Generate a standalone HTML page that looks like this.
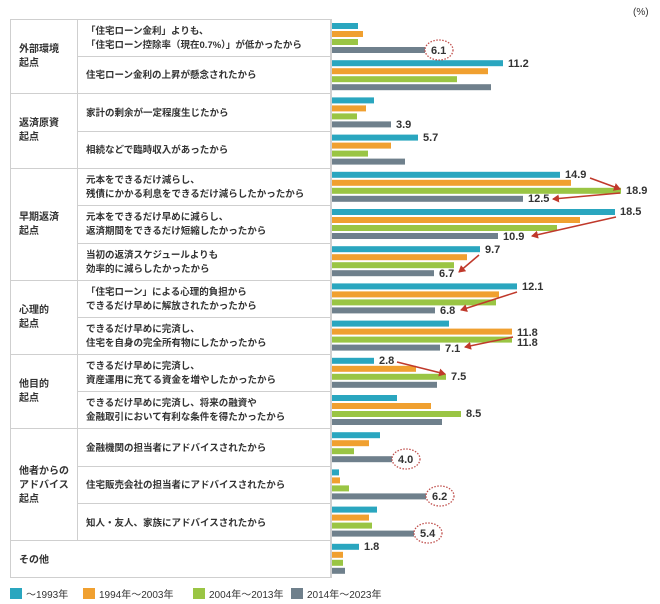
<!DOCTYPE html>
<html><head><meta charset="utf-8"><style>
html,body{margin:0;padding:0;background:#fff}
svg{display:block}
text{font-family:"Liberation Sans","Noto Sans CJK JP",sans-serif;fill:#333}
.l{font-size:9.5px;font-weight:bold}
.c{font-size:10px;font-weight:bold}
.v{font-size:11px;font-weight:bold}
.g{font-size:10px}
</style></head><body>
<svg width="660" height="604" viewBox="0 0 660 604">
<defs><marker id="ah" markerWidth="8" markerHeight="8" refX="6" refY="4" orient="auto" markerUnits="userSpaceOnUse"><path d="M0,0 L7,4 L0,8 z" fill="#c0392b"/></marker></defs>
<text x="633" y="15" class="g">(%)</text>
<g stroke="#cfcfcf" stroke-width="1" fill="none">
<rect x="10.5" y="19.5" width="320" height="558"/>
<line x1="77.5" y1="19.5" x2="77.5" y2="540.5"/>
<line x1="10" y1="93.5" x2="331" y2="93.5"/>
<line x1="10" y1="168.5" x2="331" y2="168.5"/>
<line x1="10" y1="280.5" x2="331" y2="280.5"/>
<line x1="10" y1="354.5" x2="331" y2="354.5"/>
<line x1="10" y1="428.5" x2="331" y2="428.5"/>
<line x1="10" y1="540.5" x2="331" y2="540.5"/>
<line x1="77" y1="56.5" x2="331" y2="56.5"/>
<line x1="77" y1="131.5" x2="331" y2="131.5"/>
<line x1="77" y1="205.5" x2="331" y2="205.5"/>
<line x1="77" y1="243.5" x2="331" y2="243.5"/>
<line x1="77" y1="317.5" x2="331" y2="317.5"/>
<line x1="77" y1="391.5" x2="331" y2="391.5"/>
<line x1="77" y1="466.5" x2="331" y2="466.5"/>
<line x1="77" y1="503.5" x2="331" y2="503.5"/>
</g>
<g class="c">
<text x="19" y="52">外部環境</text><text x="19" y="66">起点</text>
<text x="19" y="126">返済原資</text><text x="19" y="140">起点</text>
<text x="19" y="220">早期返済</text><text x="19" y="234">起点</text>
<text x="19" y="313">心理的</text><text x="19" y="327">起点</text>
<text x="19" y="387">他目的</text><text x="19" y="401">起点</text>
<text x="19" y="474">他者からの</text><text x="19" y="488">アドバイス</text><text x="19" y="502">起点</text>
<text x="19" y="563">その他</text>
</g>
<g class="l">
<text x="86" y="34">「住宅ローン金利」よりも、</text><text x="86" y="48">「住宅ローン控除率（現在0.7%）」が低かったから</text>
<text x="86" y="78">住宅ローン金利の上昇が懸念されたから</text>
<text x="86" y="116">家計の剰余が一定程度生じたから</text>
<text x="86" y="153">相続などで臨時収入があったから</text>
<text x="86" y="183">元本をできるだけ減らし、</text><text x="86" y="197">残債にかかる利息をできるだけ減らしたかったから</text>
<text x="86" y="220">元本をできるだけ早めに減らし、</text><text x="86" y="234">返済期間をできるだけ短縮したかったから</text>
<text x="86" y="258">当初の返済スケジュールよりも</text><text x="86" y="272">効率的に減らしたかったから</text>
<text x="86" y="295">「住宅ローン」による心理的負担から</text><text x="86" y="309">できるだけ早めに解放されたかったから</text>
<text x="86" y="332">できるだけ早めに完済し、</text><text x="86" y="346">住宅を自身の完全所有物にしたかったから</text>
<text x="86" y="369">できるだけ早めに完済し、</text><text x="86" y="383">資産運用に充てる資金を増やしたかったから</text>
<text x="86" y="406">できるだけ早めに完済し、将来の融資や</text><text x="86" y="420">金融取引において有利な条件を得たかったから</text>
<text x="86" y="451">金融機関の担当者にアドバイスされたから</text>
<text x="86" y="488">住宅販売会社の担当者にアドバイスされたから</text>
<text x="86" y="526">知人・友人、家族にアドバイスされたから</text>
</g>
<g fill="#2aa6bf">
<rect x="331" y="23" width="27" height="6"/>
<rect x="331" y="60.2" width="172" height="6"/>
<rect x="331" y="97.4" width="43" height="6"/>
<rect x="331" y="134.6" width="87" height="6"/>
<rect x="331" y="171.8" width="229" height="6"/>
<rect x="331" y="209" width="284" height="6"/>
<rect x="331" y="246.2" width="149" height="6"/>
<rect x="331" y="283.4" width="186" height="6"/>
<rect x="331" y="320.6" width="118" height="6"/>
<rect x="331" y="357.8" width="43" height="6"/>
<rect x="331" y="395" width="66" height="6"/>
<rect x="331" y="432.2" width="49" height="6"/>
<rect x="331" y="469.4" width="8" height="6"/>
<rect x="331" y="506.6" width="46" height="6"/>
<rect x="331" y="543.8" width="28" height="6"/>
</g>
<g fill="#f0a030">
<rect x="331" y="31" width="32" height="6"/>
<rect x="331" y="68.2" width="157" height="6"/>
<rect x="331" y="105.4" width="35" height="6"/>
<rect x="331" y="142.6" width="60" height="6"/>
<rect x="331" y="179.8" width="240" height="6"/>
<rect x="331" y="217" width="249" height="6"/>
<rect x="331" y="254.2" width="136" height="6"/>
<rect x="331" y="291.4" width="168" height="6"/>
<rect x="331" y="328.6" width="181" height="6"/>
<rect x="331" y="365.8" width="85" height="6"/>
<rect x="331" y="403" width="100" height="6"/>
<rect x="331" y="440.2" width="38" height="6"/>
<rect x="331" y="477.4" width="9" height="6"/>
<rect x="331" y="514.6" width="38" height="6"/>
<rect x="331" y="551.8" width="12" height="6"/>
</g>
<g fill="#9ac544">
<rect x="331" y="39" width="27" height="6"/>
<rect x="331" y="76.2" width="126" height="6"/>
<rect x="331" y="113.4" width="26" height="6"/>
<rect x="331" y="150.6" width="37" height="6"/>
<rect x="331" y="187.8" width="290" height="6"/>
<rect x="331" y="225" width="226" height="6"/>
<rect x="331" y="262.2" width="123" height="6"/>
<rect x="331" y="299.4" width="165" height="6"/>
<rect x="331" y="336.6" width="181" height="6"/>
<rect x="331" y="373.8" width="115" height="6"/>
<rect x="331" y="411" width="130" height="6"/>
<rect x="331" y="448.2" width="23" height="6"/>
<rect x="331" y="485.4" width="18" height="6"/>
<rect x="331" y="522.6" width="41" height="6"/>
<rect x="331" y="559.8" width="12" height="6"/>
</g>
<g fill="#6f808c">
<rect x="331" y="47" width="94" height="6"/>
<rect x="331" y="84.2" width="160" height="6"/>
<rect x="331" y="121.4" width="60" height="6"/>
<rect x="331" y="158.6" width="74" height="6"/>
<rect x="331" y="195.8" width="192" height="6"/>
<rect x="331" y="233" width="167" height="6"/>
<rect x="331" y="270.2" width="103" height="6"/>
<rect x="331" y="307.4" width="104" height="6"/>
<rect x="331" y="344.6" width="109" height="6"/>
<rect x="331" y="381.8" width="106" height="6"/>
<rect x="331" y="419" width="111" height="6"/>
<rect x="331" y="456.2" width="61" height="6"/>
<rect x="331" y="493.4" width="95" height="6"/>
<rect x="331" y="530.6" width="83" height="6"/>
<rect x="331" y="567.8" width="14" height="6"/>
</g>
<g class="v">
<text x="431" y="54">6.1</text>
<text x="508" y="67">11.2</text>
<text x="396" y="128">3.9</text>
<text x="423" y="141">5.7</text>
<text x="565" y="178">14.9</text>
<text x="626" y="194">18.9</text>
<text x="528" y="202">12.5</text>
<text x="620" y="215">18.5</text>
<text x="503" y="240">10.9</text>
<text x="485" y="253">9.7</text>
<text x="439" y="277">6.7</text>
<text x="522" y="290">12.1</text>
<text x="440" y="314">6.8</text>
<text x="517" y="336">11.8</text>
<text x="517" y="346">11.8</text>
<text x="445" y="352">7.1</text>
<text x="379" y="364">2.8</text>
<text x="451" y="380">7.5</text>
<text x="466" y="417">8.5</text>
<text x="398" y="463">4.0</text>
<text x="432" y="500">6.2</text>
<text x="420" y="537">5.4</text>
<text x="364" y="550">1.8</text>
</g>
<g fill="none" stroke="#c0392b" stroke-width="1.5" marker-end="url(#ah)">
<path d="M590,178 L620,189"/>
<path d="M620,193 L553,199"/>
<path d="M616,217 L532,236"/>
<path d="M479,255 L459,272"/>
<path d="M517,292 L461,310"/>
<path d="M513,337 L465,347"/>
<path d="M397,362 L445,374"/>
</g>
<g fill="none" stroke="#c0504d" stroke-width="1.3" stroke-dasharray="1.5,1.5">
<ellipse cx="439" cy="50" rx="14" ry="10"/>
<ellipse cx="406" cy="459" rx="14" ry="10"/>
<ellipse cx="440" cy="496" rx="14" ry="10"/>
<ellipse cx="428" cy="533" rx="14" ry="10"/>
</g>
<g class="g">
<rect x="10" y="588" width="12" height="11" fill="#2aa6bf"/><text x="26" y="598">～1993年</text>
<rect x="83" y="588" width="12" height="11" fill="#f0a030"/><text x="99" y="598">1994年～2003年</text>
<rect x="193" y="588" width="12" height="11" fill="#9ac544"/><text x="209" y="598">2004年～2013年</text>
<rect x="291" y="588" width="12" height="11" fill="#6f808c"/><text x="307" y="598">2014年～2023年</text>
</g>
<line x1="331.5" y1="19" x2="331.5" y2="578" stroke="#cfcfcf"/>
</svg>
</body></html>
